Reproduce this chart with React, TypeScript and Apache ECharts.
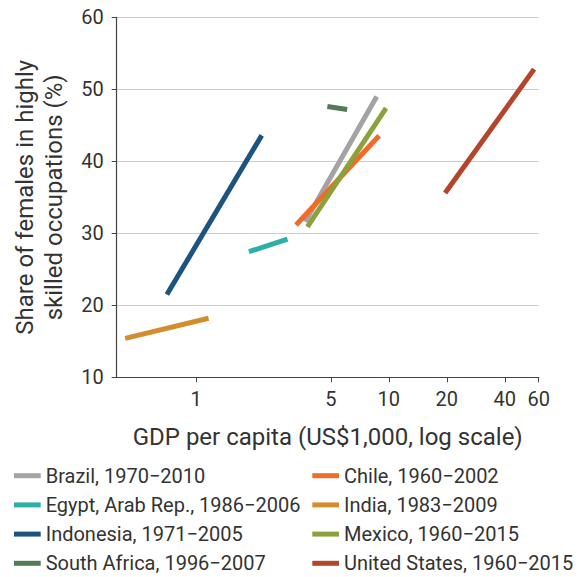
import React, { useEffect, useRef } from "react";
import * as echarts from "echarts";

const countries = [
  "Brazil, 1970\u22122010",
  "Chile, 1960\u22122002",
  "Egypt, Arab Rep., 1986\u22122006",
  "India, 1983\u22122009",
  "Indonesia, 1971\u22122005",
  "Mexico, 1960\u22122015",
  "South Africa, 1996\u22122007",
  "United States, 1960\u22122015",
];
const colors = ["#a3a3a3", "#f26a26", "#2bb0a8", "#d38d2e", "#1b5480", "#8ca03c", "#527a55", "#b4452b"];
const gdpStart = [3.68, 3.3, 1.88, 0.428, 0.705, 3.78, 4.8, 19.6];
const gdpEnd = [8.66, 8.91, 2.98, 1.16, 2.19, 9.68, 6.08, 56.8];
const shareStart = [31.6, 31.15, 27.45, 15.4, 21.5, 30.9, 47.6, 35.6];
const shareEnd = [49.0, 43.55, 29.2, 18.2, 43.6, 47.4, 47.2, 52.8];
const xTicks = [1, 5, 10, 20, 40, 60];
const leftLegend = [0, 2, 4, 6];
const rightLegend = [1, 3, 5, 7];

const FONT = "Roboto";
const TEXT = "#333333";

export default function App() {
  const ref = useRef<HTMLDivElement>(null);
  useEffect(() => {
    if (!ref.current) return;
    const chart = echarts.init(ref.current, null, { renderer: "svg" });
    const series = countries.map((name, i) => ({
      name,
      type: "line",
      showSymbol: false,
      symbol: "none",
      data: [
        [Math.log10(gdpStart[i]), shareStart[i]],
        [Math.log10(gdpEnd[i]), shareEnd[i]],
      ],
      lineStyle: { width: 5, color: colors[i], cap: "butt" },
      itemStyle: { color: colors[i] },
    }));
    const legendBase = {
      orient: "vertical",
      top: 464.7,
      padding: 0,
      itemWidth: 26.7,
      itemHeight: 5,
      itemGap: 7.2,
      icon: "rect",
      textStyle: { fontFamily: FONT, fontSize: 20, color: TEXT, lineHeight: 22 },
    };
    chart.setOption({
      animation: false,
      textStyle: { fontFamily: FONT },
      grid: { left: 116.7, right: 47.3, top: 17.3, bottom: 199.7, containLabel: false },
      xAxis: {
        type: "value",
        min: Math.log10(0.387),
        max: Math.log10(60),
        name: "GDP per capita (US$1,000, log scale)",
        nameLocation: "middle",
        nameGap: 46,
        nameTextStyle: { fontFamily: FONT, fontSize: 24, color: TEXT, lineHeight: 28 },
        axisLine: { show: true, onZero: false, lineStyle: { color: "#444", width: 1.2 } },
        axisTick: { show: true, length: 5, customValues: xTicks.map((v) => Math.log10(v)), lineStyle: { color: "#444" } },
        axisLabel: {
          customValues: xTicks.map((v) => Math.log10(v)),
          formatter: (v: number) => String(Math.round(Math.pow(10, v))),
          fontFamily: FONT,
          fontSize: 20,
          color: TEXT,
          margin: 12,
        },
        splitLine: { show: false },
      },
      yAxis: {
        type: "value",
        min: 10,
        max: 60,
        interval: 10,
        name: "Share of females in highly\nskilled occupations (%)",
        nameLocation: "middle",
        nameGap: 48,
        nameTextStyle: { fontFamily: FONT, fontSize: 24, color: TEXT, lineHeight: 29 },
        axisLine: { show: true, onZero: false, lineStyle: { color: "#444", width: 1.2 } },
        axisTick: { show: true, length: 5, lineStyle: { color: "#444" } },
        axisLabel: { fontFamily: FONT, fontSize: 20, color: TEXT, margin: 13 },
        splitLine: { show: true, lineStyle: { color: "#cccccc", width: 1 } },
      },
      legend: [
        { ...legendBase, left: 14, data: leftLegend.map((i) => countries[i]) },
        { ...legendBase, left: 312.3, data: rightLegend.map((i) => countries[i]) },
      ],
      series,
    });
    return () => chart.dispose();
  }, []);
  return <div ref={ref} style={{ width: 586, height: 577, position: "absolute", left: 0, top: 0 }} />;
}
